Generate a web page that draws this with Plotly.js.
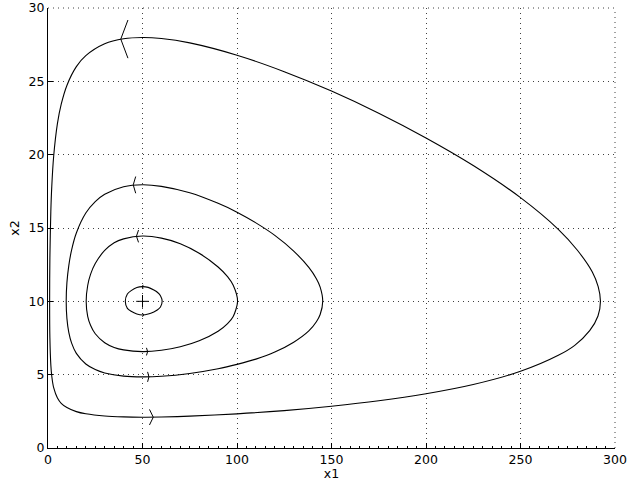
<!DOCTYPE html>
<html>
<head>
<meta charset="utf-8">
<script src="https://cdn.plot.ly/plotly-3.0.1.min.js"></script>
<style>html,body{margin:0;padding:0;background:#fff;}#plot{width:629px;height:481px;}</style>
</head>
<body>
<div id="plot"></div>
<script>
// Orbit 1 (innermost), counter-clockwise: lower branch then upper branch
const orbit1X = [40.9, 42, 44, 47, 50, 53, 56, 58, 59.5, 60.4, 59.5, 58, 56, 53, 50, 47, 44, 42, 40.9];
const orbit1Y = [10, 9.52, 9.32, 9.14, 9.07, 9.13, 9.28, 9.43, 9.62, 10, 10.38, 10.6, 10.77, 10.95, 11.0, 10.94, 10.73, 10.5, 10];

// Orbit 2
const orbit2X = [20.2, 21, 22.5, 25, 30, 35, 40, 50, 60, 70, 80, 90, 95, 98, 100.3,
                 98, 95, 90, 80, 70, 60, 50, 40, 35, 30, 25, 22.5, 21, 20.2];
const orbit2Y = [10, 8.98, 8.37, 7.79, 7.18, 6.86, 6.69, 6.57, 6.66, 6.90, 7.31, 7.96, 8.48, 8.97, 10,
                 11.09, 11.68, 12.34, 13.28, 13.93, 14.31, 14.45, 14.26, 14.0, 13.47, 12.58, 11.84, 11.08, 10];

// Orbit 3
const orbit3X = [9.63, 10, 11, 12.5, 15, 20, 25, 30, 40, 50, 60, 75, 90, 100, 110, 120, 130, 138, 142, 144, 145.36,
                 144, 142, 138, 130, 120, 110, 100, 90, 75, 60, 50, 40, 30, 25, 20, 15, 12.5, 11, 10, 9.63];
const orbit3Y = [10, 8.84, 7.89, 7.15, 6.45, 5.73, 5.35, 5.12, 4.90, 4.85, 4.89, 5.08, 5.40, 5.70, 6.06, 6.54, 7.21, 7.98, 8.61, 9.1, 10,
                 10.97, 11.54, 12.31, 13.43, 14.50, 15.35, 16.08, 16.68, 17.40, 17.84, 17.95, 17.81, 17.30, 16.80, 16.02, 14.66, 13.51, 12.44, 11.26, 10];

// Orbit 4 (outermost)
const orbit4X = [0.86, 1, 1.5, 2, 3, 5, 7, 10, 15, 20, 30, 40, 50, 60, 75, 100, 125, 150, 175, 200, 225, 250, 270, 278.7, 286.6, 291.0, 292.3,
                 291.1, 288, 280, 270, 250, 225, 200, 175, 150, 125, 100, 75, 60, 50, 40, 30, 20, 15, 10, 7, 5, 3, 2, 1.5, 1, 0.86];
const orbit4Y = [10, 7.52, 5.66, 4.89, 4.11, 3.41, 3.05, 2.76, 2.48, 2.33, 2.18, 2.12, 2.10, 2.11, 2.17, 2.33, 2.55, 2.85, 3.22, 3.70, 4.33, 5.23, 6.32, 7.0, 8.0, 9.0, 10,
                 11, 12, 13.5, 14.91, 17.07, 19.26, 21.14, 22.83, 24.34, 25.66, 26.78, 27.62, 27.92, 27.99, 27.90, 27.56, 26.75, 26.0, 24.72, 23.44, 22.13, 19.89, 17.84, 16.15, 12.98, 10];

// Equilibrium point
const eqX = [50];
const eqY = [10];

// Direction arrowheads: tip position, x of arm ends, half spread of arms (y units)
const arrowTipX  = [38.5, 45.1, 46.8, 55.7, 53.4, 52.7, 49.8, 50.6];
const arrowTipY  = [27.88, 17.94, 14.44, 2.10, 4.85, 6.57, 11.0, 9.07];
const arrowBackX = [42.3, 46.4, 47.9, 53.7, 52.7, 52.1, 50.4, 50.0];
const arrowHalf  = [1.3, 0.57, 0.42, 0.53, 0.34, 0.26, 0.12, 0.12];

// Axis ticks
const xTicks = [0, 50, 100, 150, 200, 250, 300];
const yTicks = [0, 5, 10, 15, 20, 25, 30];

const ax = [], ay = [];
for (let i = 0; i < arrowTipX.length; i++) {
  ax.push(arrowBackX[i], arrowTipX[i], arrowBackX[i], null);
  ay.push(arrowTipY[i] + arrowHalf[i], arrowTipY[i], arrowTipY[i] - arrowHalf[i], null);
}

const lineStyle = {color: '#000', width: 1.1, shape: 'spline', smoothing: 0.8};
const orbits = [[orbit1X, orbit1Y], [orbit2X, orbit2Y], [orbit3X, orbit3Y], [orbit4X, orbit4Y]];
const traces = orbits.map(o => ({x: o[0], y: o[1], type: 'scatter', mode: 'lines', line: lineStyle, hoverinfo: 'skip'}));
traces.push({x: ax, y: ay, type: 'scatter', mode: 'lines', line: {color: '#000', width: 1}, connectgaps: false, hoverinfo: 'skip'});
traces.push({x: eqX, y: eqY, type: 'scatter', mode: 'markers',
  marker: {symbol: 'cross-thin', size: 9, line: {color: '#000', width: 1}}, hoverinfo: 'skip'});

const fnt = {family: 'DejaVu Sans, Liberation Sans, Arial, sans-serif', size: 12.5, color: '#000'};
const gridDash = '1px,4px';
const gridColor = 'rgba(0,0,0,0.75)';
const layout = {
  width: 629, height: 481,
  margin: {l: 48, r: 14, t: 8, b: 33, pad: 0},
  paper_bgcolor: '#fff', plot_bgcolor: '#fff',
  showlegend: false,
  font: fnt,
  xaxis: {
    range: [0, 300], tickvals: xTicks, ticktext: xTicks.map(String),
    showgrid: true, gridcolor: gridColor, griddash: gridDash, gridwidth: 1,
    zeroline: false, showline: true, linecolor: '#000', linewidth: 1, mirror: false,
    ticks: 'inside', ticklen: 5, tickcolor: '#000', tickwidth: 1,
    minor: {dtick: 5, ticks: 'inside', ticklen: 2, tickcolor: '#000', showgrid: false},
    tickfont: fnt,
    title: {text: 'x1', font: fnt, standoff: 2},
    fixedrange: true
  },
  yaxis: {
    range: [0, 30], tickvals: yTicks, ticktext: yTicks.map(String),
    showgrid: true, gridcolor: gridColor, griddash: gridDash, gridwidth: 1,
    zeroline: false, showline: true, linecolor: '#000', linewidth: 1, mirror: false,
    ticks: 'inside', ticklen: 5, tickcolor: '#000', tickwidth: 1,
    tickfont: fnt,
    title: {text: 'x2', font: fnt, standoff: 6},
    fixedrange: true
  },
  shapes: [
    {type: 'line', xref: 'paper', yref: 'paper', x0: 0, x1: 1, y0: 1, y1: 1,
     line: {color: gridColor, width: 1, dash: gridDash}},
    {type: 'line', xref: 'paper', yref: 'paper', x0: 1, x1: 1, y0: 0, y1: 1,
     line: {color: gridColor, width: 1, dash: gridDash}}
  ]
};
Plotly.newPlot('plot', traces, layout, {staticPlot: true, displayModeBar: false});
</script>
</body>
</html>
